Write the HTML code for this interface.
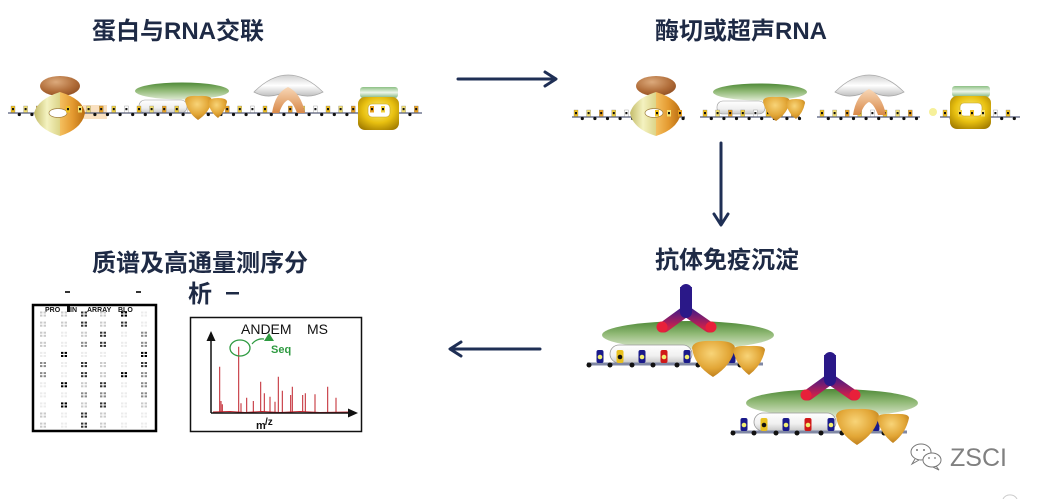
<!DOCTYPE html>
<html><head><meta charset="utf-8">
<style>
html,body{margin:0;padding:0;background:#fff;}
svg{display:block}
.h{font-family:"Liberation Sans","Noto Sans CJK SC",sans-serif;font-weight:bold;font-size:24px;fill:#1e2a45}
.t{font-family:"Liberation Sans",sans-serif}
</style></head><body>
<svg id="s" width="1040" height="499" viewBox="0 0 1040 499" xmlns="http://www.w3.org/2000/svg">
<defs>
<radialGradient id="gBrown" cx="0.4" cy="0.3" r="0.8"><stop offset="0" stop-color="#dcaa7c"/><stop offset="0.6" stop-color="#b06c38"/><stop offset="1" stop-color="#8a4a20"/></radialGradient>
<linearGradient id="gYel" x1="0" y1="0" x2="1" y2="0"><stop offset="0" stop-color="#c4bc6a"/><stop offset="0.5" stop-color="#f4f2c0"/><stop offset="1" stop-color="#dcd488"/></linearGradient>
<linearGradient id="gOr" x1="0" y1="0" x2="1" y2="0"><stop offset="0" stop-color="#f4c060"/><stop offset="0.5" stop-color="#e49a30"/><stop offset="1" stop-color="#b86c10"/></linearGradient>
<linearGradient id="gGreen" x1="0" y1="0" x2="0" y2="1"><stop offset="0" stop-color="#4f8a38"/><stop offset="0.45" stop-color="#8fb874"/><stop offset="1" stop-color="#dce8d0"/></linearGradient>
<linearGradient id="gWhite" x1="0" y1="0" x2="0" y2="1"><stop offset="0" stop-color="#ffffff"/><stop offset="0.6" stop-color="#f0f0f0"/><stop offset="1" stop-color="#c8c8c8"/></linearGradient>
<radialGradient id="gCone" cx="0.45" cy="0.35" r="0.7"><stop offset="0" stop-color="#f8d478"/><stop offset="0.6" stop-color="#e2a636"/><stop offset="1" stop-color="#b87818"/></radialGradient>
<radialGradient id="gGold" cx="0.5" cy="0.4" r="0.7"><stop offset="0" stop-color="#fff27a"/><stop offset="0.55" stop-color="#e8c010"/><stop offset="1" stop-color="#a07a00"/></radialGradient>
<linearGradient id="gPeach" x1="0" y1="0" x2="0" y2="1"><stop offset="0" stop-color="#f8d8b8"/><stop offset="1" stop-color="#d88848"/></linearGradient>
<linearGradient id="gBowl" x1="0" y1="0" x2="0" y2="1"><stop offset="0" stop-color="#d0d0d0"/><stop offset="0.5" stop-color="#ffffff"/><stop offset="1" stop-color="#c0c0c0"/></linearGradient>
<linearGradient id="gTop" x1="0" y1="0" x2="0" y2="1"><stop offset="0" stop-color="#8cc084"/><stop offset="0.5" stop-color="#eef6ea"/><stop offset="1" stop-color="#80b47c"/></linearGradient>
<linearGradient id="gArm" gradientUnits="userSpaceOnUse" x1="0" y1="308" x2="0" y2="328"><stop offset="0" stop-color="#3a1a8c"/><stop offset="1" stop-color="#d0204a"/></linearGradient>
</defs>
<rect width="1040" height="499" fill="#fff"/>

<!-- headings -->
<text class="h" x="92" y="39">蛋白与RNA交联</text>
<text class="h" x="655" y="39">酶切或超声RNA</text>
<text class="h" x="655" y="268">抗体免疫沉淀</text>
<text class="h" x="92" y="271">质谱及高通量测序分</text>
<text class="h" x="188" y="302">析</text>
<rect x="65" y="291" width="5" height="2" fill="#333"/>
<rect x="136" y="291" width="5" height="2" fill="#333"/>
<rect x="226" y="292" width="13" height="2.5" fill="#1e2a45"/>

<!-- arrows -->
<g stroke="#1f2f55" stroke-width="3" fill="none" stroke-linecap="round" stroke-linejoin="round">
<line x1="458" y1="79" x2="555" y2="79"/>
<polyline points="545,72 556,79 545,86"/>
<line x1="721" y1="143" x2="721" y2="224"/>
<polyline points="714,214 721,225 728,214"/>
<line x1="540" y1="349" x2="451" y2="349"/>
<polyline points="461,342 450,349 461,356"/>
</g>

<!-- top-left proteins: back layer -->
<g id="bk">
<ellipse id="cap1" cx="60" cy="86" rx="20" ry="10" fill="url(#gBrown)"/>
<g id="p2b">
<ellipse cx="182" cy="91" rx="47" ry="8.5" fill="url(#gGreen)"/>
<rect x="139" y="100" width="48" height="13" rx="6" fill="url(#gWhite)" stroke="#999" stroke-width="0.6"/>
</g>
<path id="bowl" d="M254,92 Q288,58 323,92 Q306,101 288,90 Q270,101 254,92 Z" fill="url(#gBowl)" stroke="#aaa" stroke-width="0.8"/>
</g>
<rect x="83" y="105" width="24" height="14" fill="#f8d8b0" opacity="0.8"/>
<use href="#cap1" x="596"/>
<use href="#p2b" x="578" y="1"/>
<use href="#bowl" x="581"/>

<g id="strands"></g>

<!-- front layer -->
<g id="p1f">
<path d="M60,92 Q38,99 34,113 Q37,129 60,136 Z" fill="url(#gYel)"/>
<path d="M60,92 Q83,99 85,113 Q82,129 60,136 Z" fill="url(#gOr)"/>
<ellipse cx="58" cy="113" rx="9" ry="4.5" fill="#fff" stroke="#a08040" stroke-width="0.7"/>
</g>
<use href="#p1f" x="596"/>
<g id="p2f">
<path d="M185,100 Q186,95 198,96 Q211,95 212,100 Q210,112 198,120 Q187,112 185,100 Z" fill="url(#gCone)"/>
<path d="M208,102 Q209,98 218,98 Q227,98 227,102 Q225,112 218,118 Q210,112 208,102 Z" fill="url(#gCone)"/>
</g>
<use href="#p2f" x="578" y="1"/>
<path id="arch" d="M272,113 Q275,93 288,87 Q301,93 305,113 L297,113 Q293,102 288,100 Q283,102 279,113 Z" fill="url(#gPeach)"/>
<use href="#arch" x="581" y="2"/>
<g id="p4">
<rect x="360" y="87" width="38" height="11" rx="3" fill="url(#gTop)"/>
<rect x="358" y="97" width="41" height="33" rx="7" fill="url(#gGold)"/>
<rect x="368" y="104" width="22" height="13" rx="4" fill="#fff" stroke="#c0a020" stroke-width="0.6"/>
</g>
<use href="#p4" x="592" y="-1"/>
<circle cx="933" cy="112" r="4" fill="#f6f09a"/>
<g id="overb"></g>

<!-- immunoprecipitation complex -->
<g id="cx1">
<ellipse cx="688" cy="335" rx="86" ry="14" fill="url(#gGreen)"/>
<rect x="610" y="345" width="82" height="18" rx="9" fill="url(#gWhite)" stroke="#999" stroke-width="0.8"/>
<line x1="587" y1="364" x2="763" y2="364" stroke="#8088a4" stroke-width="3"/>
<g fill="#111">
<circle cx="589" cy="365" r="2.5"/><circle cx="610" cy="365" r="2.5"/><circle cx="632" cy="365" r="2.5"/><circle cx="653" cy="365" r="2.5"/><circle cx="677" cy="365" r="2.5"/><circle cx="698" cy="365" r="2.5"/><circle cx="740" cy="365" r="2.5"/>
</g>
<rect x="596.5" y="350" width="7" height="13" rx="2" fill="#1a1a8a"/><circle cx="600" cy="357" r="2.3" fill="#f2ee70"/>
<rect x="616.5" y="350" width="7" height="13" rx="2" fill="#e8c020"/><circle cx="620" cy="357" r="2.3" fill="#111"/>
<rect x="638.5" y="350" width="7" height="13" rx="2" fill="#1a1a8a"/><circle cx="642" cy="357" r="2.3" fill="#f2ee70"/>
<rect x="660.5" y="350" width="7" height="13" rx="2" fill="#d01818"/><circle cx="664" cy="357" r="2.3" fill="#f2ee70"/>
<rect x="683.5" y="350" width="7" height="13" rx="2" fill="#1a1a8a"/><circle cx="687" cy="357" r="2.3" fill="#f2ee70"/>
<rect x="728.5" y="350" width="7" height="13" rx="2" fill="#1a1a8a"/>
<rect x="747.5" y="350" width="7" height="13" rx="2" fill="#d01818"/><circle cx="751" cy="357" r="2.3" fill="#f2ee70"/>
<path d="M692,348 Q693,340 713,341 Q734,340 735,348 Q732,365 713,377 Q694,365 692,348 Z" fill="url(#gCone)"/>
<path d="M733,350 Q734,345 749,346 Q765,345 765,350 Q762,365 749,375 Q736,365 733,350 Z" fill="url(#gCone)"/>
<path d="M664,327 L686,311 L709,327" stroke="url(#gArm)" stroke-width="11" fill="none" stroke-linecap="round" stroke-linejoin="round"/>
<path d="M680,287 L692,287 L690,312 L682,312 Z" fill="#2a1888"/>
<line x1="686" y1="290" x2="686" y2="312" stroke="#2a1888" stroke-width="12" stroke-linecap="round"/>
<circle cx="662" cy="327" r="5.5" fill="#e8203a"/>
<circle cx="711" cy="327" r="5.5" fill="#e8203a"/>
</g>
<use href="#cx1" x="144" y="68"/>

<!-- protein array -->
<rect x="33" y="305" width="123" height="126" fill="#fff" stroke="#000" stroke-width="2.5"/>
<text class="t" x="45" y="312" font-size="7" font-weight="bold" fill="#111">PRO</text>
<rect x="67" y="306" width="3" height="6" fill="#111"/>
<text class="t" x="70" y="312" font-size="7" font-weight="bold" fill="#111">IN</text>
<text class="t" x="87" y="312" font-size="7" font-weight="bold" fill="#111">ARRAY</text>
<text class="t" x="118" y="312" font-size="7" font-weight="bold" fill="#111">BLO</text>
<g id="grid"></g>

<!-- mass spec -->
<rect x="190.5" y="317.5" width="171" height="114" fill="#fff" stroke="#111" stroke-width="1.5"/>
<text class="t" x="241" y="334" font-size="14" fill="#111">ANDEM</text>
<text class="t" x="307" y="334" font-size="14" fill="#111">MS</text>
<path d="M213,412 L230,411.5 L245,412.5 L262,411.5 L280,412.5 L300,411.5 L320,412.5 L350,412" stroke="#c0202a" stroke-width="1" fill="none"/>
<path stroke="#c0202a" stroke-width="1" fill="none" d="M219.7,412V366.7 M221,412V401 M222.3,412V404.3 M238.7,412V346.7 M241,412V403.3 M246.7,412V397.7 M253.3,412V401 M260.7,412V381.7 M264.3,412V393.3 M270,412V396.7 M275,412V401.7 M278.3,412V376.7 M282.3,412V390.7 M290.7,412V395 M292.3,412V386.7 M302.7,412V395 M305.3,412V393.3 M315,412V394.3 M327.7,412V386.7 M336,412V397.7"/>
<line x1="211" y1="338" x2="211" y2="413" stroke="#111" stroke-width="1.5"/>
<polygon points="211,331 206.5,341 215.5,341" fill="#111"/>
<line x1="211" y1="413" x2="350" y2="413" stroke="#111" stroke-width="1.5"/>
<polygon points="358,413 348,408.5 348,417.5" fill="#111"/>
<ellipse cx="240" cy="348" rx="10" ry="8" fill="none" stroke="#2e9a40" stroke-width="1.3"/>
<path d="M252,344 Q257,338 264,339" stroke="#2e9a40" stroke-width="1.2" fill="none"/>
<polygon points="269,333 264,341 274,341" fill="#2e9a40"/>
<text class="t" x="271" y="353" font-size="11" font-weight="bold" fill="#2e9a40">Seq</text>
<text class="t" x="256" y="429" font-size="11" font-weight="bold" fill="#111">m</text>
<text class="t" x="265" y="425" font-size="10" font-weight="bold" fill="#111">/z</text>

<!-- watermark -->
<g fill="none" stroke="#777" stroke-width="1">
<ellipse cx="921" cy="452" rx="10" ry="8"/>
<path d="M915,459 L912,464 L919,460"/>
<ellipse cx="932" cy="460" rx="9" ry="7" fill="#fff"/>
<path d="M936,466 L939,470 L933,467"/>
</g>
<g fill="#777"><circle cx="917" cy="450" r="1"/><circle cx="924" cy="450" r="1"/><circle cx="929" cy="458" r="0.9"/><circle cx="935" cy="458" r="0.9"/></g>
<text class="t" x="950" y="466" font-size="25" fill="#808080">ZSCI</text>
<path d="M1003,499 A8,8 0 0 1 1017,499" stroke="#ccc" fill="none"/>
</svg>
<script>
(function(){
var NS="http://www.w3.org/2000/svg";
function el(p,n,a){var e=document.createElementNS(NS,n);for(var k in a)e.setAttribute(k,a[k]);p.appendChild(e);return e;}
var st=document.getElementById('strands');
var cols=['#f0c020','#f4e070','#e8a020','#f0d040','#ffffff'];
function strand(g,x1,x2,y,step,off){
 el(g,'line',{x1:x1,y1:y,x2:x2,y2:y,stroke:'#555c7a','stroke-width':1.3});
 var i=0;
 for(var x=x1+off;x<x2-2;x+=step){
  el(g,'rect',{x:x-2,y:y-7,width:4,height:6.5,fill:cols[i%cols.length],stroke:'#777','stroke-width':0.3});
  el(g,'rect',{x:x-1,y:y-5,width:2,height:2.2,fill:'#111'});
  if(x+step/2<x2) el(g,'circle',{cx:x+step/2,cy:y+1.5,r:1.6,fill:'#111'});
  i++;
 }
}
strand(st,8,422,113,12.6,5);
strand(st,572,685,117,12.6,4);
strand(st,700,800,117,12.6,5);
strand(st,817,920,117,12.6,5);
strand(st,940,1020,117,12.6,5);
var ob=document.getElementById('overb');
[68,80,372,383,657,669,680,960,972,983].forEach(function(x,i){
 var y=(x>600)?117:113;
 el(ob,'rect',{x:x-2,y:y-7,width:4,height:6.5,fill:cols[i%4]});
 el(ob,'rect',{x:x-1,y:y-5,width:2,height:2.2,fill:'#111'});
});
var lv=[[1,1,3,1,4,0],[1,1,3,1,3,0],[1,0,1,3,0,2],[1,0,2,3,0,2],[0,4,0,0,0,4],[2,0,3,1,0,3],[2,0,3,1,4,2],[0,4,1,3,0,2],[0,0,2,2,0,2],[0,4,1,3,0,1],[1,0,3,1,0,0],[1,0,3,1,0,0]];
var cx=[43,64,84,103,124,144];
var cc=['#ececec','#cacaca','#8a8a8a','#333','#000'];
var gr=document.getElementById('grid');
for(var r=0;r<12;r++){var y=314+r*10.1;for(var c=0;c<6;c++){var x=cx[c],f=cc[lv[r][c]];
 [[-3,-2.5],[0.6,-2.5],[-3,0.6],[0.6,0.6]].forEach(function(o){el(gr,'rect',{x:x+o[0],y:y+o[1],width:2.4,height:2,fill:f});});
}}
})();
</script>
</body></html>
